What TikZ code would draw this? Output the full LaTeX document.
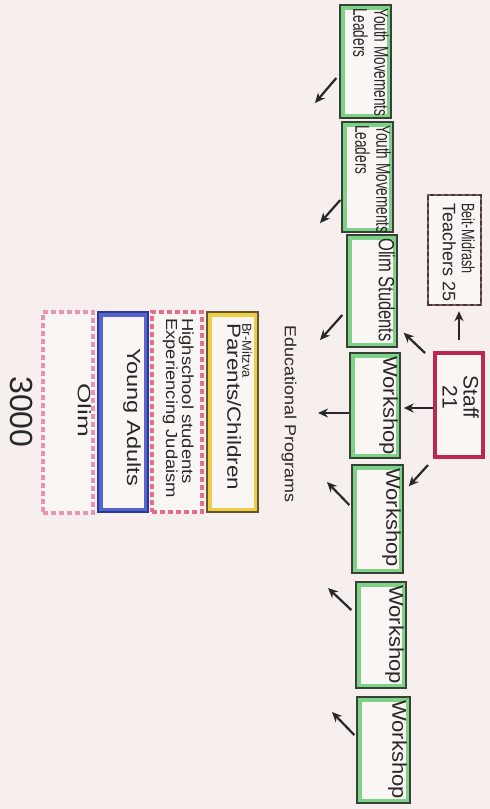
\documentclass[tikz,border=0pt]{standalone}
\usepackage{fontspec}
\setmainfont{Liberation Sans}
\usepackage{graphicx}
\usetikzlibrary{arrows.meta,calc}
\definecolor{paper}{RGB}{246,239,237}
\definecolor{boxfill}{RGB}{250,246,244}
\definecolor{ink}{RGB}{40,40,40}
\definecolor{gband}{RGB}{125,210,135}
\definecolor{gedge}{RGB}{55,65,55}
\definecolor{yband}{RGB}{236,206,70}
\definecolor{yedge}{RGB}{100,85,45}
\definecolor{staffc}{RGB}{190,40,80}
\definecolor{bmc}{RGB}{125,90,90}
\definecolor{hsc}{RGB}{230,110,140}
\definecolor{olc}{RGB}{232,150,175}
\definecolor{bluec}{RGB}{45,55,150}
\definecolor{blueband}{RGB}{85,100,205}
\newcommand{\sx}[2]{\scalebox{#1}[1]{#2}}
\begin{document}
\begin{tikzpicture}[x=1pt,y=-1pt,
  bandbox/.style 2 args={draw=#1, line width=1.4pt, fill=boxfill, inner sep=0pt,
    path picture={\draw[#2, line width=9pt] (path picture bounding box.south west) rectangle (path picture bounding box.north east);}},
  gbox/.style={bandbox={gedge}{gband}},
  ybox/.style={bandbox={yedge}{yband}},
  bbox/.style={bandbox={bluec}{blueband}},
  staffbox/.style={draw=staffc, line width=4pt, fill=boxfill, inner sep=0pt},
  bmbox/.style={draw=bmc, line width=2.4pt, fill=boxfill, inner sep=0pt,
    postaction={draw=bmc!60!black, line width=1.2pt, dash pattern=on 4pt off 3pt}},
  pinkdash/.style={fill=boxfill, inner sep=0pt, draw=#1, line width=3.4pt, dash pattern=on 5pt off 3pt,
    preaction={draw=gray!50!black, line width=1.2pt}},
  lbl/.style={rotate=-90, inner sep=0pt, text=ink},
  arr/.style={draw=ink, line width=2.2pt, -{Stealth[length=10pt,width=9pt]}}
]
\fill[paper] (0,0) rectangle (490,809);
\useasboundingbox (0,0) rectangle (490,809);

% green boxes
\node[gbox, minimum width=51pt, minimum height=113pt] (g1) at (365.5,61.5) {};
\node[gbox, minimum width=51pt, minimum height=110pt] (g2) at (367.5,177) {};
\node[gbox, minimum width=50pt, minimum height=112pt] (g3) at (372,291) {};
\node[gbox, minimum width=50pt, minimum height=105pt] (g4) at (375,405.5) {};
\node[gbox, minimum width=51pt, minimum height=108pt] (g5) at (377.5,519) {};
\node[gbox, minimum width=50pt, minimum height=106pt] (g6) at (381,635) {};
\node[gbox, minimum width=53pt, minimum height=106pt] (g7) at (383.5,750) {};

% staff and beit-midrash
\node[staffbox, minimum width=48pt, minimum height=104pt] (staff) at (459,405) {};
\node[bmbox, minimum width=53pt, minimum height=110pt] (bm) at (454.5,250) {};

% lower boxes
\node[ybox, minimum width=51pt, minimum height=200pt] (bar) at (232.5,412) {};
\node[pinkdash=hsc, minimum width=50pt, minimum height=200pt] (hs) at (177,412) {};
\node[bbox, minimum width=50pt, minimum height=200pt] (ya) at (123,412) {};
\node[pinkdash=olc, minimum width=50pt, minimum height=201pt] (ol) at (68,412.5) {};

% labels
\node[lbl, align=left, anchor=north west, font=\fontsize{20pt}{21pt}\selectfont] (g1t) at (389,8) {\sx{0.68}{Youth Movements}\\\sx{0.68}{Leaders}};
\node[lbl, align=left, anchor=north west, font=\fontsize{20pt}{21pt}\selectfont] (g2t) at (391,125) {\sx{0.68}{Youth Movements}\\\sx{0.68}{Leaders}};
\node[lbl, anchor=north west, font=\fontsize{22pt}{24pt}\selectfont] (g3t) at (395,238) {\sx{0.75}{Olim Students}};
\node[lbl, anchor=north west, font=\fontsize{20pt}{22pt}\selectfont] (g4t) at (398,356) {\sx{1.1}{Workshop}};
\node[lbl, anchor=north west, font=\fontsize{20pt}{22pt}\selectfont] (g5t) at (401,468) {\sx{1.1}{Workshop}};
\node[lbl, anchor=north west, font=\fontsize{20pt}{22pt}\selectfont] (g6t) at (404,585) {\sx{1.1}{Workshop}};
\node[lbl, anchor=north west, font=\fontsize{20pt}{22pt}\selectfont] (g7t) at (407,700) {\sx{1.1}{Workshop}};
\node[lbl, align=center, anchor=north, font=\fontsize{21pt}{21pt}\selectfont] (stafft) at (479,397) {Staff\\21};
\node[lbl, align=left, anchor=north west, font=\fontsize{18pt}{19pt}\selectfont] (bmt) at (475,203) {\sx{0.7}{Beit-Midrash}\\Teachers 25};
\node[lbl, align=left, anchor=north west, font=\fontsize{19pt}{15pt}\selectfont] (bart) at (252,323) {{\fontsize{13pt}{15pt}\selectfont Br-Mitzva}\\\sx{1.18}{Parents/Children}};
\node[lbl, align=left, anchor=north west, font=\fontsize{16pt}{16pt}\selectfont] (hst) at (194,318) {\sx{1.15}{Highschool students}\\\sx{1.15}{Experiencing Judaism}};
\node[lbl, anchor=north, font=\fontsize{19pt}{21pt}\selectfont] (yat) at (141,417) {\sx{1.24}{Young Adults}};
\node[lbl, anchor=north, font=\fontsize{18pt}{20pt}\selectfont] (olt) at (91,410) {\sx{1.45}{Olim}};
\node[lbl, font=\fontsize{16pt}{18pt}\selectfont] (edu) at (289,414) {\sx{1.12}{Educational Programs}};
\node[lbl, font=\fontsize{32pt}{34pt}\selectfont] (num) at (21.5,412) {3000};

% free arrow ends
\coordinate (e1) at (315,103);
\coordinate (e2) at (320,223);
\coordinate (e3) at (320,340);
\coordinate (e4) at (318,413);
\coordinate (e5) at (327,482);
\coordinate (e6) at (328,588);
\coordinate (e7) at (332,712);

\draw[arr] ($(g1.west)+(-3,16.5)$) -- (e1);
\draw[arr] ($(g2.west)+(-1,23)$) -- (e2);
\draw[arr] ($(g3.west)+(-4,24)$) -- (e3);
\draw[arr] ($(g4.west)+(0,7.5)$) -- (e4);
\draw[arr] ($(g5.west)+(-2,-14)$) -- (e5);
\draw[arr] ($(g6.west)+(-4,-25)$) -- (e6);
\draw[arr] ($(g7.west)+(-2,-15)$) -- (e7);

% staff arrows
\draw[arr] ($(staff.north)+(0,-11)$) -- ($(staff.north |- bm.south)+(0,5)$);
\draw[arr] ($(staff.north west)+(-8,2)$) -- ($(g3.south east)+(6,-15)$);
\draw[arr] ($(staff.west)+(0,3)$) -- ($(staff.west -| g4.east)+(3,3)$);
\draw[arr] ($(staff.south west)+(-5,6)$) -- ($(g5.north east)+(5,22)$);
\end{tikzpicture}
\end{document}
